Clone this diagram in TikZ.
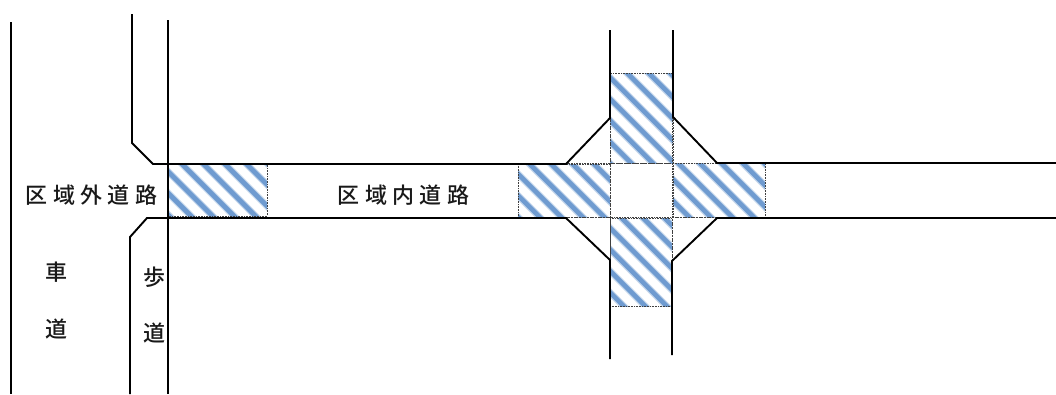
\documentclass[tikz,border=0pt]{standalone}
\usepackage{fontspec}
\newfontfamily\cjk[LetterSpace=24]{Noto Sans CJK JP Medium}
\definecolor{hatchblue}{HTML}{6F9BD0}
\definecolor{hatchhalo}{HTML}{C5D7EC}
\tikzset{
  road/.style={draw=black,line width=1.9pt,line join=miter},
  hatchline/.style={draw=hatchblue,line width=4.6pt},
  hatchsoft/.style={draw=hatchhalo,line width=7pt},
  dots/.style={draw=black!75,line width=0.6pt,densely dotted},
  jp/.style={font=\cjk\fontsize{22}{23}\selectfont,inner sep=0pt,text=black!90}
}
\newcommand{\hatcharea}[5]{%
  \begin{scope}
    \clip (#1,#2) rectangle (#3,#4);
    \foreach \k in {-40,-39,...,60} {
      \draw[hatchsoft] ({\k*21.5+#5},0) -- ({\k*21.5+#5+394},394);
      \draw[hatchline] ({\k*21.5+#5},0) -- ({\k*21.5+#5+394},394);
    }
  \end{scope}
  \draw[dots] (#1,#2) rectangle (#3,#4);
}
\begin{document}
\begin{tikzpicture}[x=1pt,y=-1pt]
\useasboundingbox (0,0) rectangle (1056,394);
\fill[white] (0,0) rectangle (1056,394);
\hatcharea{168}{164}{267}{216}{-3.5}
\hatcharea{518}{164}{610}{217}{0}
\hatcharea{673}{163}{765}{217}{-1}
\hatcharea{610}{73}{673}{163}{-5}
\hatcharea{610}{218}{672}{306}{-5}
\draw[dots] (566,163.5) -- (717,163.5);
\draw[dots] (566,217.5) -- (717,217.5);
\draw[dots] (610,118) -- (610,260);
\draw[dots] (672,118) -- (672,260);
\coordinate (L1) at (11,22); \coordinate (L2) at (11,394);
\coordinate (S1) at (168,20); \coordinate (S2) at (168,394);
\coordinate (A1) at (132,14); \coordinate (A2) at (132,143); \coordinate (A3) at (153,164);
\coordinate (A4) at (566,164); \coordinate (A5) at (610,118); \coordinate (A6) at (610,30);
\coordinate (B1) at (673,30); \coordinate (B2) at (673,117); \coordinate (B3) at (717,163); \coordinate (B4) at (1056,163);
\coordinate (C1) at (130,394); \coordinate (C2) at (130,237); \coordinate (C3) at (147,218);
\coordinate (C4) at (566,218); \coordinate (C5) at (610,260); \coordinate (C6) at (610,359);
\coordinate (D1) at (672,355); \coordinate (D2) at (672,261); \coordinate (D3) at (717,218); \coordinate (D4) at (1056,218);
\draw[road] (L1) -- (L2);
\draw[road] (S1) -- (S2);
\draw[road] (A1) -- (A2) -- (A3) -- (A4) -- (A5) -- (A6);
\draw[road] (B1) -- (B2) -- (B3) -- (B4);
\draw[road] (C1) -- (C2) -- (C3) -- (C4) -- (C5) -- (C6);
\draw[road] (D1) -- (D2) -- (D3) -- (D4);
\node[jp] (outer) at (91.5,195) {区域外道路};
\node[jp] (inner) at (403.5,195) {区域内道路};
\node[jp] (car1) at (56,272) {車};
\node[jp] (car2) at (56,329) {道};
\node[jp] (walk1) at (154,277) {歩};
\node[jp] (walk2) at (154,333) {道};
\end{tikzpicture}
\end{document}
